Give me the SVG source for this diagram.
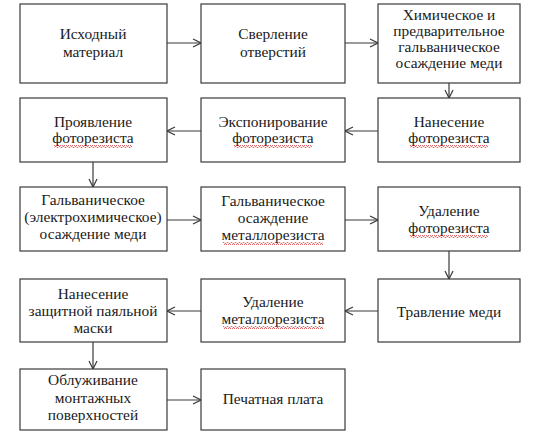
<svg xmlns="http://www.w3.org/2000/svg" width="559" height="436" viewBox="0 0 559 436">
<defs>
<style>
.box{fill:#fff;stroke:#3a3a3a;stroke-width:1.2}
.t{fill:#1a1a1a;text-anchor:middle}
.c{fill:none;stroke:#3a3a3a;stroke-width:1.2}
.sq{fill:url(#wavy)}
</style>
<marker id="ah" viewBox="0 0 10 10" refX="9" refY="5" markerWidth="10" markerHeight="10" markerUnits="userSpaceOnUse" orient="auto">
<path d="M1,1 L9,5 L1,9" fill="none" stroke="#3a3a3a" stroke-width="1.2"/>
</marker>
<pattern id="wavy" width="4" height="3" patternUnits="userSpaceOnUse">
<polyline points="0,2.5 1,0.5 2,0.5 3,2.5 4,2.5" fill="none" stroke="#e04040" stroke-width="0.8"/>
</pattern>
</defs>
<rect width="559" height="436" fill="#fff"/>
<g id="connectors">
<line class="c" x1="167" y1="43" x2="201" y2="43" marker-end="url(#ah)"/>
<line class="c" x1="345" y1="43" x2="378" y2="43" marker-end="url(#ah)"/>
<line class="c" x1="449" y1="83" x2="449" y2="98" marker-end="url(#ah)"/>
<line class="c" x1="378" y1="131" x2="345" y2="131" marker-end="url(#ah)"/>
<line class="c" x1="201" y1="131" x2="167" y2="131" marker-end="url(#ah)"/>
<line class="c" x1="93" y1="162" x2="93" y2="187" marker-end="url(#ah)"/>
<line class="c" x1="167" y1="220" x2="201" y2="220" marker-end="url(#ah)"/>
<line class="c" x1="345" y1="220" x2="378" y2="220" marker-end="url(#ah)"/>
<line class="c" x1="449" y1="251" x2="449" y2="279" marker-end="url(#ah)"/>
<line class="c" x1="378" y1="311" x2="345" y2="311" marker-end="url(#ah)"/>
<line class="c" x1="201" y1="311" x2="167" y2="311" marker-end="url(#ah)"/>
<line class="c" x1="93" y1="342" x2="93" y2="369" marker-end="url(#ah)"/>
<line class="c" x1="167" y1="400" x2="201" y2="400" marker-end="url(#ah)"/>
</g>
<g id="nodes" font-family="Liberation Serif, Times New Roman, serif" font-size="15.4">
<g id="n1"><rect class="box" x="20" y="4" width="147" height="79"/>
<text class="t" x="93" y="39">Исходный</text><text class="t" x="93" y="57">материал</text></g>
<g id="n2"><rect class="box" x="201" y="4" width="144" height="79"/>
<text class="t" x="273" y="39">Сверление</text><text class="t" x="273" y="57">отверстий</text></g>
<g id="n3"><rect class="box" x="378" y="4" width="142" height="79"/>
<text class="t" x="449" y="20">Химическое и</text><text class="t" x="449" y="36">предварительное</text><text class="t" x="449" y="52">гальваническое</text><text class="t" x="449" y="68">осаждение меди</text></g>
<g id="n4"><rect class="box" x="20" y="98" width="147" height="64"/>
<text class="t" x="93" y="127">Проявление</text><text class="t" x="93" y="143">фоторезиста</text>
<rect class="sq" x="54" y="145" width="78" height="3"/></g>
<g id="n5"><rect class="box" x="201" y="98" width="144" height="64"/>
<text class="t" x="273" y="127">Экспонирование</text><text class="t" x="273" y="143">фоторезиста</text>
<rect class="sq" x="234" y="145" width="78" height="3"/></g>
<g id="n6"><rect class="box" x="378" y="98" width="142" height="64"/>
<text class="t" x="449" y="127">Нанесение</text><text class="t" x="449" y="143">фоторезиста</text>
<rect class="sq" x="410" y="145" width="78" height="3"/></g>
<g id="n7"><rect class="box" x="20" y="187" width="147" height="64"/>
<text class="t" x="93" y="205">Гальваническое</text><text class="t" x="93" y="222">(электрохимическое)</text><text class="t" x="93" y="239">осаждение меди</text></g>
<g id="n8"><rect class="box" x="201" y="187" width="144" height="64"/>
<text class="t" x="273" y="206">Гальваническое</text><text class="t" x="273" y="223">осаждение</text><text class="t" x="273" y="240">металлорезиста</text>
<rect class="sq" x="223" y="242" width="100" height="3"/></g>
<g id="n9"><rect class="box" x="378" y="187" width="142" height="64"/>
<text class="t" x="449" y="216">Удаление</text><text class="t" x="449" y="233">фоторезиста</text>
<rect class="sq" x="410" y="235" width="78" height="3"/></g>
<g id="n10"><rect class="box" x="20" y="279" width="147" height="63"/>
<text class="t" x="93" y="299">Нанесение</text><text class="t" x="93" y="316">защитной паяльной</text><text class="t" x="93" y="333">маски</text></g>
<g id="n11"><rect class="box" x="201" y="279" width="144" height="63"/>
<text class="t" x="273" y="307">Удаление</text><text class="t" x="273" y="324">металлорезиста</text>
<rect class="sq" x="223" y="326" width="100" height="3"/></g>
<g id="n12"><rect class="box" x="378" y="279" width="142" height="63"/>
<text class="t" x="449" y="317">Травление меди</text></g>
<g id="n13"><rect class="box" x="20" y="369" width="147" height="61"/>
<text class="t" x="93" y="385">Облуживание</text><text class="t" x="93" y="403">монтажных</text><text class="t" x="93" y="420">поверхностей</text></g>
<g id="n14"><rect class="box" x="201" y="369" width="144" height="61"/>
<text class="t" x="273" y="404">Печатная плата</text></g>
</g>
</svg>
